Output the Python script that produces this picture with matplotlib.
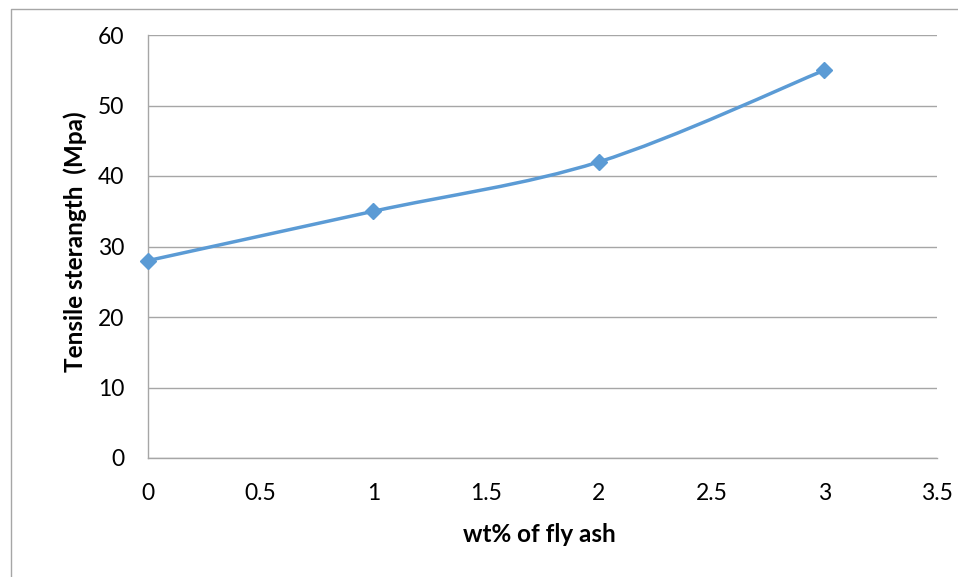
import matplotlib
matplotlib.use("Agg")
import matplotlib.pyplot as plt
from matplotlib.path import Path
from matplotlib.patches import PathPatch
from matplotlib.lines import Line2D
import numpy as np

x_vals = [0, 1, 2, 3]
y_vals = [28, 35, 42, 55]
x_ticks = [0, 0.5, 1, 1.5, 2, 2.5, 3, 3.5]
x_tick_labels = ["0", "0.5", "1", "1.5", "2", "2.5", "3", "3.5"]
y_ticks = [0, 10, 20, 30, 40, 50, 60]
x_label = "wt% of fly ash"
y_label = "Tensile sterangth  (Mpa)"

color = "#5B9BD5"
grid_color = "#A6A6A6"
plt.rcParams['font.family'] = ['Lato', 'DejaVu Sans']

W, H = 958, 577
fig = plt.figure(figsize=(W / 100, H / 100), dpi=100)
ax = fig.add_axes([148 / W, 1 - 458 / H, (937 - 148) / W, (458 - 35) / H])

# Excel-style smoothed line via cubic Bezier segments
P = np.column_stack([x_vals, y_vals]).astype(float)
n = len(P)
verts = [tuple(P[0])]
codes = [Path.MOVETO]
for i in range(n - 1):
    p0 = P[i - 1] if i > 0 else P[i]
    p1 = P[i]
    p2 = P[i + 1]
    p3 = P[i + 2] if i + 2 < n else P[i + 1]
    c1 = p1 + (p2 - p0) / 6.0
    c2 = p2 - (p3 - p1) / 6.0
    verts += [tuple(c1), tuple(c2), tuple(p2)]
    codes += [Path.CURVE4] * 3
patch = PathPatch(Path(verts, codes), facecolor="none", edgecolor=color,
                  lw=2.5, capstyle="round", joinstyle="round", zorder=3)
ax.add_patch(patch)
ax.plot(x_vals, y_vals, linestyle="none", marker="D", markersize=8,
        color=color, zorder=4, clip_on=False)

ax.set_xlim(0, 3.5)
ax.set_ylim(0, 60)
ax.set_xticks(x_ticks)
ax.set_xticklabels(x_tick_labels)
ax.set_yticks(y_ticks)
ax.grid(axis="y", color=grid_color, lw=1.0, zorder=0)
ax.set_axisbelow(True)
for s in ["top", "right"]:
    ax.spines[s].set_visible(False)
for s in ["left", "bottom"]:
    ax.spines[s].set_color(grid_color)
    ax.spines[s].set_linewidth(1.0)
ax.tick_params(axis="both", length=0, labelsize=16.5, colors="black")
ax.tick_params(axis="y", pad=17)
ax.tick_params(axis="x", pad=18)

ax.set_xlabel(x_label, fontsize=17.5, fontweight="bold")
ax.set_ylabel(y_label, fontsize=17.5, fontweight="bold")
ax.xaxis.set_label_coords(0.496, (458 - 535) / 423)
ax.xaxis.label.set_va("center")
ax.yaxis.set_label_coords((75 - 148) / 789, (458 - 242) / 423)
ax.yaxis.label.set_va("center")

# outer chart frame
fig.add_artist(Line2D([10.5 / W, 10.5 / W, 1.0], [0.0, 1 - 8.5 / H, 1 - 8.5 / H],
                      transform=fig.transFigure, color="#A6A6A6", lw=1.0))

fig.savefig("out.png", dpi=100)
